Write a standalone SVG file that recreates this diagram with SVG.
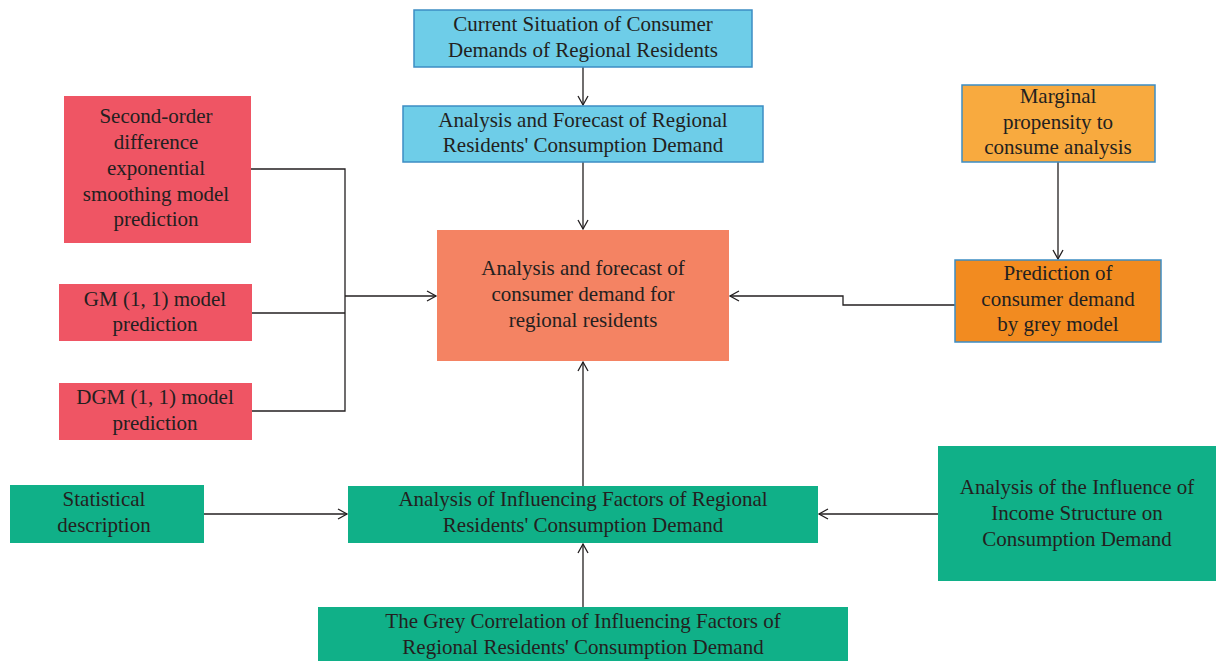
<svg xmlns="http://www.w3.org/2000/svg" width="1216" height="661" viewBox="0 0 1216 661">
<defs>
<marker id="arr" markerWidth="12" markerHeight="12" refX="10" refY="6" orient="auto" markerUnits="userSpaceOnUse">
<path d="M1,1 L10,6 L1,11" fill="none" stroke="#231f20" stroke-width="1.3"/>
</marker>
<style>
text{font-size:21px;fill:#231f20;text-anchor:middle}
.blue{fill:#6ECDE8;stroke:#3C8DC4;stroke-width:1.5}
.red{fill:#EF5564}
.ctr{fill:#F48363}
.org1{fill:#F8AA3F;stroke:#3C8DC4;stroke-width:1.5}
.org2{fill:#F28B20;stroke:#3C8DC4;stroke-width:1.5}
.grn{fill:#10B088}
.c{fill:none;stroke:#231f20;stroke-width:1.3}
</style>
</defs>
<g id="connectors">
<path class="c" d="M583,67 V105" marker-end="url(#arr)"/>
<path class="c" d="M583,162 V229" marker-end="url(#arr)"/>
<path class="c" d="M251,169 H345 V411 H251"/>
<path class="c" d="M252,313 H345"/>
<path class="c" d="M345,296 H436" marker-end="url(#arr)"/>
<path class="c" d="M1058,162 V259" marker-end="url(#arr)"/>
<path class="c" d="M955,305 H843 V296 H730" marker-end="url(#arr)"/>
<path class="c" d="M583,486 V362" marker-end="url(#arr)"/>
<path class="c" d="M204,514 H347" marker-end="url(#arr)"/>
<path class="c" d="M938,514 H819" marker-end="url(#arr)"/>
<path class="c" d="M583,607 V544" marker-end="url(#arr)"/>
</g>
<g font-family="Liberation Serif, Times New Roman, serif">
<g id="n-current">
<rect class="blue" x="414" y="10" width="338" height="57"/>
<text x="583" y="31">Current Situation of Consumer</text>
<text x="583" y="57">Demands of Regional Residents</text>
</g>
<g id="n-forecast">
<rect class="blue" x="403" y="106" width="360" height="56"/>
<text x="583" y="127">Analysis and Forecast of Regional</text>
<text x="583" y="152">Residents' Consumption Demand</text>
</g>
<g id="n-second">
<rect class="red" x="64" y="96" width="187" height="147"/>
<text x="156" y="123">Second-order</text>
<text x="156" y="149">difference</text>
<text x="156" y="175">exponential</text>
<text x="156" y="201">smoothing model</text>
<text x="156" y="226">prediction</text>
</g>
<g id="n-gm">
<rect class="red" x="59" y="284" width="193" height="57"/>
<text x="155" y="306">GM (1, 1) model</text>
<text x="155" y="331">prediction</text>
</g>
<g id="n-dgm">
<rect class="red" x="59" y="383" width="193" height="57"/>
<text x="155" y="404">DGM (1, 1) model</text>
<text x="155" y="430">prediction</text>
</g>
<g id="n-center">
<rect class="ctr" x="437" y="230" width="292" height="131"/>
<text x="583" y="275">Analysis and forecast of</text>
<text x="583" y="301">consumer demand for</text>
<text x="583" y="327">regional residents</text>
</g>
<g id="n-marginal">
<rect class="org1" x="962" y="85" width="193" height="77"/>
<text x="1058" y="103">Marginal</text>
<text x="1058" y="129">propensity to</text>
<text x="1058" y="154">consume analysis</text>
</g>
<g id="n-grey">
<rect class="org2" x="955" y="260" width="206" height="82"/>
<text x="1058" y="280">Prediction of</text>
<text x="1058" y="306">consumer demand</text>
<text x="1058" y="331">by grey model</text>
</g>
<g id="n-stat">
<rect class="grn" x="10" y="485" width="194" height="58"/>
<text x="104" y="506">Statistical</text>
<text x="104" y="532">description</text>
</g>
<g id="n-influencing">
<rect class="grn" x="348" y="486" width="470" height="57"/>
<text x="583" y="506">Analysis of Influencing Factors of Regional</text>
<text x="583" y="532">Residents' Consumption Demand</text>
</g>
<g id="n-income">
<rect class="grn" x="938" y="446" width="278" height="135"/>
<text x="1077" y="494">Analysis of the Influence of</text>
<text x="1077" y="520">Income Structure on</text>
<text x="1077" y="546">Consumption Demand</text>
</g>
<g id="n-correlation">
<rect class="grn" x="318" y="607" width="530" height="54"/>
<text x="583" y="628">The Grey Correlation of Influencing Factors of</text>
<text x="583" y="654">Regional Residents' Consumption Demand</text>
</g>
</g>
</svg>
